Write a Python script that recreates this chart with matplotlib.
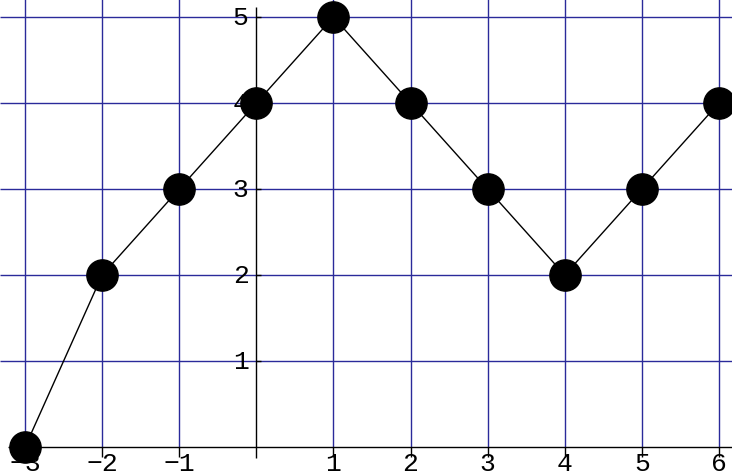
import matplotlib
matplotlib.use("Agg")
import matplotlib.pyplot as plt

x_vals = [-3, -2, -1, 0, 1, 2, 3, 4, 5, 6]
y_vals = [0, 2, 3, 4, 5, 4, 3, 2, 3, 4]
x_ticks = [-3, -2, -1, 1, 2, 3, 4, 5, 6]
x_tick_labels = ["\u22123", "\u22122", "\u22121", "1", "2", "3", "4", "5", "6"]
y_ticks = [1, 2, 3, 4, 5]
y_tick_labels = ["1", "2", "3", "4", "5"]
x_grid = [-3, -2, -1, 1, 2, 3, 4, 5, 6]
y_grid = [1, 2, 3, 4, 5]

fig = plt.figure(figsize=(7.32, 4.77), dpi=100)
ax = fig.add_axes([0, 0, 1, 1])
xmin, xmax = -3.325, 6.17
ymin, ymax = -0.337, 5.21
ax.set_xlim(xmin, xmax)
ax.set_ylim(ymin, ymax)
ax.axis("off")

gc = "#2a2a9a"
ax.vlines(x_grid, 0, ymax, colors=gc, linewidth=1.0, zorder=1)
ax.hlines(y_grid, xmin, xmax, colors=gc, linewidth=1.0, zorder=1)

# axes
ax.hlines(0, -3.22, xmax, colors="black", linewidth=1.0, zorder=2)
ax.vlines(0, -0.13, 5.12, colors="black", linewidth=1.0, zorder=2)
# ticks
ax.vlines(x_ticks, -0.12, 0.0, colors="black", linewidth=1.0, zorder=2)
ax.hlines(y_ticks, 0, 0.06, colors="black", linewidth=1.0, zorder=2)

fnt = dict(family="Liberation Mono", fontsize=19)
for xt, lab in zip(x_ticks, x_tick_labels):
    ax.text(xt, ymin + 0.008, lab, ha="center", va="bottom", **fnt)
for yt, lab in zip(y_ticks, y_tick_labels):
    ax.text(-0.1, yt, lab, ha="right", va="center", **fnt)

ax.plot(x_vals, y_vals, color="black", linewidth=1.0, marker="o",
        markersize=22.5, markerfacecolor="black", markeredgecolor="black",
        zorder=3, clip_on=False)

fig.savefig("out.png", dpi=100)
